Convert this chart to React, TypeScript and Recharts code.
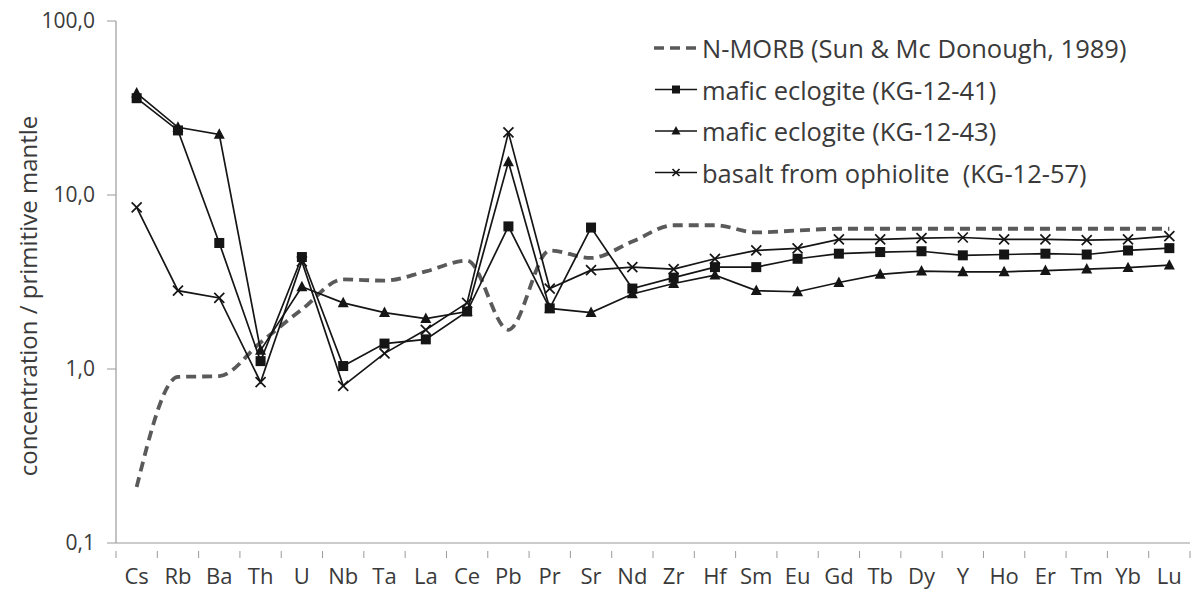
import React from 'react'
import {Legend, Line, LineChart, XAxis, YAxis} from 'recharts'

const ELEMENTS = [
    'Cs', 'Rb', 'Ba', 'Th', 'U', 'Nb', 'Ta', 'La', 'Ce', 'Pb', 'Pr', 'Sr', 'Nd',
    'Zr', 'Hf', 'Sm', 'Eu', 'Gd', 'Tb', 'Dy', 'Y', 'Ho', 'Er', 'Tm', 'Yb', 'Lu'
]

// N-MORB (Sun & McDonough 1989), normalised to primitive mantle
const NMORB = [
    0.21, 0.9, 0.91, 1.42, 2.2, 3.27, 3.22, 3.64, 4.2, 1.68, 4.8, 4.35, 5.4,
    6.7, 6.7, 6.1, 6.25, 6.4, 6.4, 6.4, 6.4, 6.4, 6.4, 6.4, 6.4, 6.4
]
const KG_12_41 = [
    36, 23.5, 5.3, 1.11, 4.4, 1.04, 1.4, 1.48, 2.14, 6.6, 2.23, 6.5, 2.9,
    3.35, 3.85, 3.85, 4.3, 4.6, 4.7, 4.75, 4.5, 4.55, 4.6, 4.55, 4.8, 4.95
]
const KG_12_43 = [
    38.5, 24.5, 22.3, 1.28, 2.97, 2.4, 2.11, 1.95, 2.14, 15.5, 2.23, 2.11, 2.7,
    3.1, 3.46, 2.82, 2.78, 3.14, 3.5, 3.65, 3.62, 3.62, 3.68, 3.75, 3.82, 3.95
]
const KG_12_57 = [
    8.5, 2.82, 2.56, 0.84, 4.15, 0.8, 1.23, 1.68, 2.4, 22.9, 2.9, 3.7, 3.85,
    3.75, 4.3, 4.8, 4.93, 5.56, 5.56, 5.65, 5.7, 5.56, 5.56, 5.5, 5.56, 5.8
]
const Y_TICKS = [0.1, 1, 10, 100]

const FONT = '"Open Sans", sans-serif'
const TEXT = '#3a3a3a'
const INK = '#151515'

const data = ELEMENTS.map((el, i) => ({
    pos: i + 0.5,
    el,
    nmorb: NMORB[i],
    s41: KG_12_41[i],
    s43: KG_12_43[i],
    s57: KG_12_57[i],
}))

// ticks at every boundary (tick mark) and every centre (label)
const X_TICKS = Array.from({length: ELEMENTS.length * 2 + 1}, (_, i) => i / 2)

const Square = ({cx, cy, s = 10}: any) => (
    <rect x={cx - s / 2} y={cy - s / 2} width={s} height={s} fill={INK}/>
)
const Triangle = ({cx, cy, s = 11}: any) => (
    <polygon
        points={`${cx},${cy - s * 0.55} ${cx - s / 2},${cy + s * 0.4} ${cx + s / 2},${cy + s * 0.4}`}
        fill={INK}
    />
)
const Cross = ({cx, cy, s = 5}: any) => (
    <path d={`M${cx - s},${cy - s}L${cx + s},${cy + s}M${cx - s},${cy + s}L${cx + s},${cy - s}`}
          stroke={INK} strokeWidth={1.7}/>
)

const XTick = ({x, y, payload}: any) => {
    const v = payload.value as number
    if (Number.isInteger(v)) {
        return <line x1={x} x2={x} y1={y} y2={y + 7} stroke="#9a9a9a" strokeWidth={1}/>
    }
    return (
        <text x={x} y={y + 33} textAnchor="middle" fontFamily={FONT} fontSize={22} fill={TEXT}>
            {ELEMENTS[Math.floor(v)]}
        </text>
    )
}

const LEGEND_ROWS = [
    {label: 'N-MORB (Sun & Mc Donough, 1989)', kind: 'dash'},
    {label: 'mafic eclogite (KG-12-41)', kind: 'square'},
    {label: 'mafic eclogite (KG-12-43)', kind: 'triangle'},
    {label: 'basalt from ophiolite  (KG-12-57)', kind: 'cross'},
]

const LegendContent = () => (
    <svg width={540} height={175}>
        {LEGEND_ROWS.map((row, i) => {
            const y = 21 + i * 41.5
            return (
                <g key={row.label}>
                    {row.kind === 'dash' ? (
                        <line x1={4} x2={46} y1={y} y2={y} stroke="#5a5a5a" strokeWidth={3.5}
                              strokeDasharray="10 6"/>
                    ) : (
                        <line x1={5} x2={47} y1={y} y2={y} stroke={INK} strokeWidth={1.3}/>
                    )}
                    {row.kind === 'square' && <Square cx={26} cy={y} s={8}/>}
                    {row.kind === 'triangle' && <Triangle cx={26} cy={y} s={9}/>}
                    {row.kind === 'cross' && <Cross cx={26} cy={y} s={3.5}/>}
                    <text x={52} y={y} dominantBaseline="central" fontFamily={FONT} fontSize={25.5}
                          fill={TEXT} style={{whiteSpace: 'pre'}}>
                        {row.label}
                    </text>
                </g>
            )
        })}
    </svg>
)

export default function App() {
    return (
        <div style={{position: 'absolute', left: 0, top: 0, width: 1194, height: 590, background: '#fff'}}>
            <LineChart width={1194} height={590} data={data}
                       margin={{top: 21, right: 4, bottom: 0, left: 0}}>
                <XAxis
                    type="number"
                    dataKey="pos"
                    domain={[0, ELEMENTS.length]}
                    ticks={X_TICKS}
                    interval={0}
                    height={47}
                    tickLine={false}
                    tick={<XTick/>}
                    axisLine={{stroke: '#9a9a9a', strokeWidth: 1.2}}
                />
                <YAxis
                    scale="log"
                    domain={[0.1, 100]}
                    ticks={Y_TICKS}
                    allowDataOverflow
                    width={116}
                    tickSize={9}
                    tickMargin={12}
                    tickFormatter={(v: number) => v.toFixed(1).replace('.', ',')}
                    tick={{fontFamily: FONT, fontSize: 21, fill: TEXT}}
                    tickLine={{stroke: '#9a9a9a'}}
                    axisLine={{stroke: '#9a9a9a', strokeWidth: 1.2}}
                    label={({viewBox}: any) => {
                        const cx = 27
                        const cy = viewBox.y + viewBox.height / 2 + 14
                        return (
                            <text x={cx} y={cy} transform={`rotate(-90 ${cx} ${cy})`} textAnchor="middle"
                                  dominantBaseline="central" fontFamily={FONT} fontSize={24} fill={TEXT}>
                                concentration / primitive mantle
                            </text>
                        )
                    }}
                />
                <Legend
                    layout="vertical"
                    align="center"
                    verticalAlign="middle"
                    wrapperStyle={{top: 27, left: 650, width: 540}}
                    content={<LegendContent/>}
                />
                <Line dataKey="nmorb" type="monotone" stroke="#5a5a5a" strokeWidth={3.8}
                      strokeDasharray="10 6" dot={false} isAnimationActive={false}/>
                <Line dataKey="s41" type="linear" stroke={INK} strokeWidth={1.7}
                      dot={(p: any) => <Square key={`s41-${p.index}`} cx={p.cx} cy={p.cy}/>}
                      isAnimationActive={false}/>
                <Line dataKey="s43" type="linear" stroke={INK} strokeWidth={1.7}
                      dot={(p: any) => <Triangle key={`s43-${p.index}`} cx={p.cx} cy={p.cy}/>}
                      isAnimationActive={false}/>
                <Line dataKey="s57" type="linear" stroke={INK} strokeWidth={1.7}
                      dot={(p: any) => <Cross key={`s57-${p.index}`} cx={p.cx} cy={p.cy}/>}
                      isAnimationActive={false}/>
            </LineChart>
        </div>
    )
}
